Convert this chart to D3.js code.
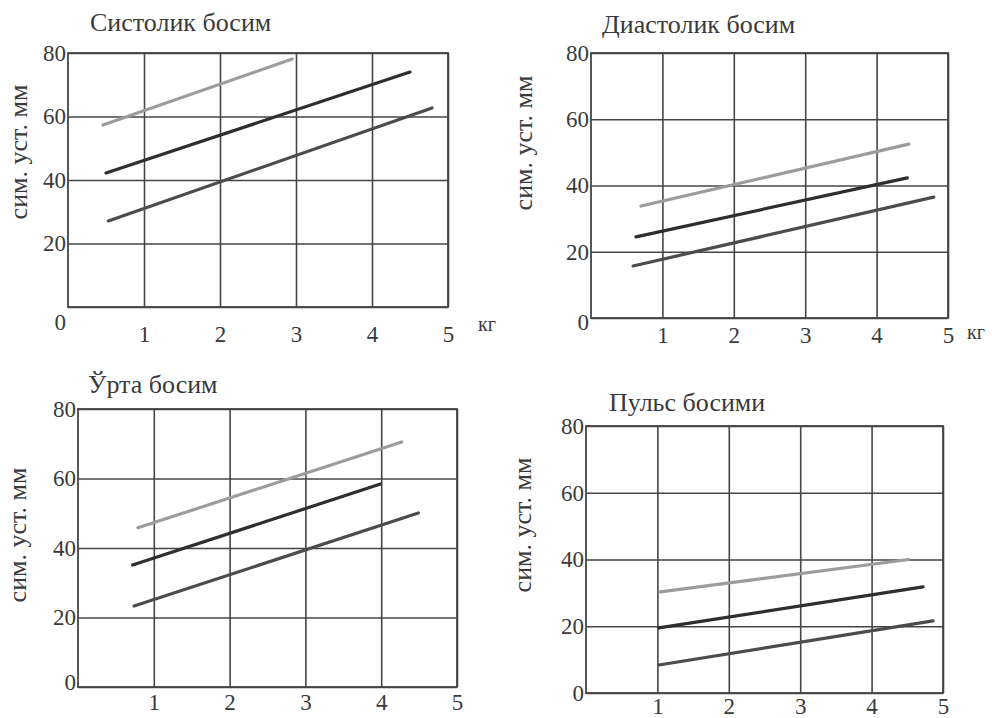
<!DOCTYPE html>
<html>
<head>
<meta charset="utf-8">
<script src="https://cdn.jsdelivr.net/npm/d3@7"></script>
<style>
  body { margin: 0; background: #fff; }
  svg { display: block; }
</style>
</head>
<body>
<svg width="992" height="718"></svg>
<script>
const svg = d3.select('svg');

// data
const xTicks = [1, 2, 3, 4, 5];
const yTicks = [0, 20, 40, 60, 80];
const yAxisLabel = 'сим. уст. мм';
const unitLabel = 'кг';
const titles = ['Систолик босим', 'Диастолик босим', 'Ўрта босим', 'Пульс босими'];
const seriesNames = ['upper', 'middle', 'lower'];

// each line: [[x0, y0], [x1, y1]]
const systolic = [
    [[0.46, 57.3], [2.95, 78.1]],
    [[0.50, 42.2], [4.50, 74.0]],
    [[0.53, 27.1], [4.79, 62.7]]
];
const diastolic = [
    [[0.70, 33.8], [4.45, 52.5]],
    [[0.63, 24.5], [4.43, 42.3]],
    [[0.59, 15.7], [4.80, 36.5]]
];
const mean = [
    [[0.79, 45.8], [4.27, 70.5]],
    [[0.72, 35.1], [3.99, 58.4]],
    [[0.74, 23.3], [4.49, 50.1]]
];
const pulse = [
    [[1.04, 30.3], [4.52, 40.0]],
    [[1.02, 19.5], [4.72, 31.8]],
    [[1.02, 8.4], [4.86, 21.6]]
];
const panelData = [systolic, diastolic, mean, pulse];

// layout (pixels)
const panels = [
    { left: 68, right: 448, top: 53, bottom: 307, titleX: 90, titleY: 31, labelX: 21, labelY: 152, xLabelDy: 19, zeroDy: 15, unit: [478, 331] },
    { left: 591, right: 948, top: 53, bottom: 318, titleX: 602, titleY: 33, labelX: 526, labelY: 143, xLabelDy: 9, zeroDy: 4, unit: [967, 339] },
    { left: 78, right: 457, top: 409, bottom: 687, titleX: 88, titleY: 393, labelX: 20, labelY: 535, xLabelDy: 7, zeroDy: -5, unit: null },
    { left: 586, right: 943, top: 426, bottom: 693, titleX: 609, titleY: 411, labelX: 525, labelY: 525, xLabelDy: 5, zeroDy: 0, unit: null }
];

const fontFamily = '"Liberation Serif", "Times New Roman", Times, "DejaVu Serif", serif';
const textColor = '#3a3a3a';
const colors = { upper: '#9c9c9c', middle: '#2e2e2e', lower: '#4c4c4c' };
const gridColor = '#454545';
const tickFont = 23;

const render = (p, lines, title) => {
    const innerWidth = p.right - p.left;
    const innerHeight = p.bottom - p.top;

    const xScale = d3.scaleLinear().domain([0, 5]).range([0, innerWidth]);
    const yScale = d3.scaleLinear().domain([0, 80]).range([innerHeight, 0]);

    const g = svg.append('g')
        .attr('transform', `translate(${p.left}, ${p.top})`);

    const yAxis = d3.axisLeft(yScale)
        .tickValues(yTicks)
        .tickFormat(d3.format('d'))
        .tickPadding(2)
        .tickSize(-innerWidth);

    const yAxisG = g.append('g').call(yAxis)
        .attr('font-family', fontFamily)
        .attr('font-size', tickFont);
    yAxisG.select('.domain').remove();
    yAxisG.selectAll('.tick line')
        .attr('stroke', gridColor)
        .attr('stroke-width', 1.6);
    yAxisG.selectAll('.tick text')
        .attr('fill', textColor)
        .attr('dy', d => d === 0 ? `${0.32 + p.zeroDy / tickFont}em` : '0.32em');

    const xAxis = d3.axisBottom(xScale)
        .tickValues(xTicks)
        .tickFormat(d3.format('d'))
        .tickPadding(p.xLabelDy)
        .tickSize(-innerHeight);

    const xAxisG = g.append('g').call(xAxis)
        .attr('transform', `translate(0, ${innerHeight})`)
        .attr('font-family', fontFamily)
        .attr('font-size', tickFont);
    xAxisG.select('.domain').remove();
    xAxisG.selectAll('.tick line')
        .attr('stroke', gridColor)
        .attr('stroke-width', 1.6);
    xAxisG.selectAll('.tick text')
        .attr('fill', textColor);

    // frame
    g.append('rect')
        .attr('width', innerWidth)
        .attr('height', innerHeight)
        .attr('fill', 'none')
        .attr('stroke', gridColor)
        .attr('stroke-width', 1.8);

    const line = d3.line()
        .x(d => xScale(d[0]))
        .y(d => yScale(d[1]));

    g.selectAll('path.series').data(lines)
        .enter().append('path')
            .attr('class', 'series')
            .attr('d', line)
            .attr('fill', 'none')
            .attr('stroke', (d, i) => colors[seriesNames[i]])
            .attr('stroke-width', 3.2)
            .attr('stroke-linecap', 'round');

    svg.append('text')
        .attr('class', 'title')
        .attr('x', p.titleX)
        .attr('y', p.titleY)
        .attr('font-family', fontFamily)
        .attr('fill', textColor)
        .attr('font-size', 26)
        .text(title);

    svg.append('text')
        .attr('class', 'axis-label')
        .attr('text-anchor', 'middle')
        .attr('transform', `translate(${p.labelX + 6}, ${p.labelY}) rotate(-90)`)
        .attr('font-family', fontFamily)
        .attr('fill', textColor)
        .attr('font-size', 26)
        .text(yAxisLabel);

    if (p.unit) {
        svg.append('text')
            .attr('class', 'unit')
            .attr('x', p.unit[0])
            .attr('y', p.unit[1])
            .attr('font-family', fontFamily)
            .attr('fill', textColor)
            .attr('font-size', 20)
            .text(unitLabel);
    }
};

panels.forEach((p, i) => render(p, panelData[i], titles[i]));
</script>
</body>
</html>
